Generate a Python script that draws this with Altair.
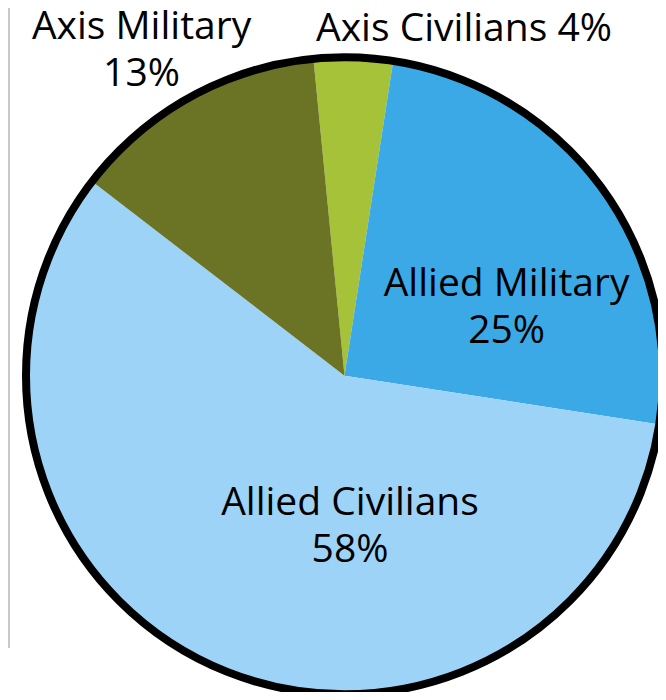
import math
import altair as alt
import pandas as pd

# ---- data (clockwise from the top of the pie) ----
categories = ["Axis Civilians", "Allied Military", "Allied Civilians", "Axis Military"]
percentages = [4, 25, 58, 13]
separators = [" ", "\n", "\n", "\n"]
colors = ["#a6c238", "#3aa9e6", "#9dd3f7", "#6b7425"]

df = pd.DataFrame({
    "idx": list(range(len(categories))),
    "category": categories,
    "value": percentages,
    "label": [f"{c}{s}{v}%" for c, s, v in zip(categories, separators, percentages)],
})

# ---- layout ----
CX, CY = 330.5, 367.75
R = 318
START = math.radians(-5.6)
theta_scale = alt.Scale(domain=[0, 100], range=[START, START + 2 * math.pi])
# per label: (angle offset from slice middle in degrees, distance from centre)
label_layout = {
    "Axis Civilians": (17.4, 367.0),
    "Allied Military": (13.4, 175.8),
    "Allied Civilians": (-25.3, 150.5),
    "Axis Military": (-3.0, 383.0),
}
FONT = "Open Sans"
FONT_SIZE = 39
LINE_H = 47

theta_enc = alt.Theta("value:Q", stack=True, scale=theta_scale)
order_enc = alt.Order("idx:Q")

pie = alt.Chart(df).mark_arc(x=CX, y=CY, radius=R).encode(
    theta=theta_enc,
    order=order_enc,
    color=alt.Color("category:N", scale=alt.Scale(domain=categories, range=colors), legend=None),
)

ring = alt.Chart(pd.DataFrame({"a": [0]})).mark_arc(
    x=CX, y=CY, radius=318.5, theta=0, theta2=6.2833,
    fillOpacity=0, stroke="black",
).encode(strokeWidth=alt.value(8))

edge = alt.Chart(pd.DataFrame({"a": [0]})).mark_rule(color="#c8c8c8").encode(
    x=alt.value(-5), y=alt.value(-8), y2=alt.value(640), strokeWidth=alt.value(2)
)

texts = []
for cat, sep in zip(categories, separators):
    dth, rad = label_layout[cat]
    n_lines = 2 if sep == "\n" else 1
    t = alt.Chart(df).mark_text(
        x=CX, y=CY, radius=rad, thetaOffset=math.radians(dth),
        dy=-(n_lines - 1) * LINE_H / 2,
        font=FONT, fontSize=FONT_SIZE, color="black", align="center", baseline="middle",
        lineBreak="\n", lineHeight=LINE_H,
    ).encode(
        theta=theta_enc,
        order=order_enc,
        text=alt.condition(alt.datum.category == cat, "label:N", alt.value("")),
    )
    texts.append(t)

chart = alt.layer(edge, pie, ring, *texts).properties(
    width=644, height=684,
    padding={"left": 6, "top": 0, "right": 0, "bottom": 0},
    autosize=alt.AutoSizeParams(type="none"),
).configure_view(stroke=None)

chart.save("out.html", embed_options={"renderer": "svg", "actions": False})
